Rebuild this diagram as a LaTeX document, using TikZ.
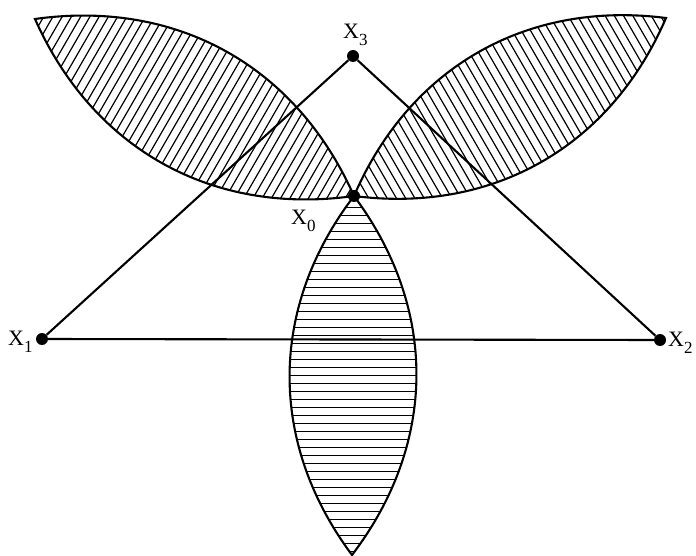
\documentclass[tikz,border=0pt]{standalone}
\usepackage{fontspec}
\setmainfont{Liberation Serif}
\newcommand\subx[1]{\raisebox{-7pt}{\fontsize{17}{20}\selectfont #1}}
\begin{document}
\begin{tikzpicture}[x=1pt,y=-1pt,
  dot/.style={circle,fill=black,inner sep=0pt,minimum size=12pt},
  lbl/.style={anchor=base west,inner sep=0pt,font=\fontsize{22}{26}\selectfont},
  edge/.style={line width=2.1pt},
  rim/.style={line width=2.1pt},
  hatch/.style={line width=1.2pt}]
\useasboundingbox (0,0) rectangle (696,556);
% points
\node[dot] (X0) at (354,196) {};
\node[dot] (X1) at (42,339) {};
\node[dot] (X2) at (660,340) {};
\node[dot] (X3) at (353,56) {};
\coordinate (TL) at (35,19);
\coordinate (TR) at (666,18);
\coordinate (TB) at (352,555);
% left lens hatching
\begin{scope}
  \clip (TL) to[bend left=37] (X0.center) to[bend left=37] (TL) -- cycle;
  \begin{scope}[shift={(194.5,107.5)},rotate=60]
    \foreach \i in {-30,...,30} \draw[hatch] (-250,\i*8) -- (250,\i*8);
  \end{scope}
\end{scope}
% right lens hatching
\begin{scope}
  \clip (X0.center) to[bend left=37] (TR) to[bend left=37] (X0.center) -- cycle;
  \begin{scope}[shift={(510,107)},rotate=-60]
    \foreach \i in {-30,...,30} \draw[hatch] (-250,\i*8) -- (250,\i*8);
  \end{scope}
\end{scope}
% bottom lens hatching
\begin{scope}
  \clip (X0.center) to[bend left=37] (TB) to[bend left=37] (X0.center) -- cycle;
  \begin{scope}[shift={(353,375.5)}]
    \foreach \i in {-30,...,30} \draw[hatch] (-250,\i*8) -- (250,\i*8);
  \end{scope}
\end{scope}
% lens outlines
\draw[rim] (TL) to[bend left=37] (X0.center) to[bend left=37] (TL) -- cycle;
\draw[rim] (X0.center) to[bend left=37] (TR) to[bend left=37] (X0.center) -- cycle;
\draw[rim] (X0.center) to[bend left=37] (TB) to[bend left=37] (X0.center) -- cycle;
% triangle
\draw[edge] (X1) -- (X2);
\draw[edge] (X1) -- (X3);
\draw[edge] (X3) -- (X2);
% labels
\node[lbl] (L3) at (343,39) {X\subx{3}};
\node[lbl] (L0) at (291,225) {X\subx{0}};
\node[lbl] (L1) at (8,345) {X\subx{1}};
\node[lbl] (L2) at (668,346) {X\subx{2}};
\end{tikzpicture}
\end{document}
